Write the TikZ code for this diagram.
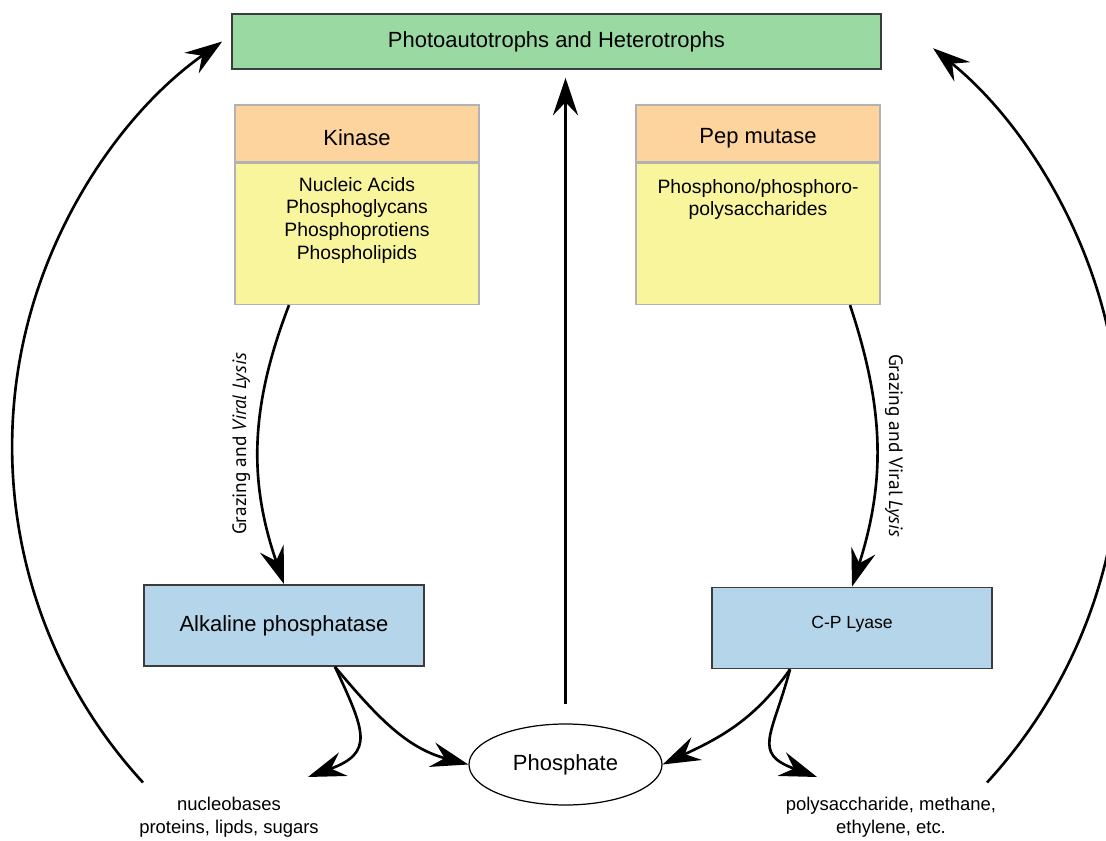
\documentclass[tikz,border=0pt]{standalone}
\usepackage{fontspec}
\setmainfont{Liberation Sans}
\newfontfamily\labelfont{PT Sans}
\usetikzlibrary{arrows.meta,positioning,shapes.geometric}
\definecolor{hostgreen}{RGB}{155,217,163}
\definecolor{enzorange}{RGB}{253,212,158}
\definecolor{substyellow}{RGB}{249,245,157}
\definecolor{phosblue}{RGB}{180,213,234}
\definecolor{boxline}{RGB}{60,60,60}
\begin{document}
\begin{tikzpicture}[
    arr/.style={-{Stealth[length=7.5mm,width=5mm,inset=2.6mm]},line width=1.5pt},
    titlefont/.style={font=\fontsize{12.5}{15}\selectfont},
    enzhead/.style={draw=gray!60,line width=0.8pt,fill=enzorange,minimum width=4.88cm,minimum height=1.14cm,text height=0.48cm,titlefont},
    substbody/.style={draw=gray!60,line width=0.8pt,fill=substyellow,minimum width=4.88cm,minimum height=2.82cm},
    substlist/.style={align=center,inner sep=0pt,font=\fontsize{11}{13}\selectfont},
    lyasebox/.style={draw=boxline,line width=1pt,fill=phosblue,minimum width=5.6cm,minimum height=1.62cm},
    grazelabel/.style={midway,anchor=south,inner sep=4pt,font=\labelfont\fontsize{11}{13}\selectfont},
    endtext/.style={align=center,font=\fontsize{10.5}{13}\selectfont}
]
    \useasboundingbox (0,0) rectangle (22.12,16.8);
    \node[draw=boxline,line width=0.9pt,fill=hostgreen,minimum width=12.98cm,minimum height=1.1cm,titlefont] (host) at (11.13,15.97) {Photoautotrophs and Heterotrophs};

    \node[enzhead] (kinhead) at (7.14,14.13) {Kinase};
    \node[substbody,below=0pt of kinhead] (kinbody) {};
    \node[substlist,below=0.28cm of kinbody.north] (kinlist) {Nucleic Acids\\Phosphoglycans\\Phosphoprotiens\\Phospholipids};

    \node[enzhead] (pephead) at (15.16,14.13) {Pep mutase};
    \node[substbody,below=0pt of pephead] (pepbody) {};
    \node[substlist,below=0.32cm of pepbody.north] (peplist) {Phosphono/phosphoro-\\polysaccharides};

    \node[lyasebox,titlefont] (alk) at (5.68,4.29) {Alkaline phosphatase};
    \node[lyasebox,font=\fontsize{10}{12}\selectfont,text depth=0.22cm] (cpl) at (17.04,4.24) {C-P Lyase};

    \node[draw,ellipse,line width=0.7pt,minimum width=3.86cm,minimum height=1.62cm,inner sep=0pt,titlefont] (phos) at (11.31,1.51) {Phosphate};

    \node[endtext] (nucl) at (4.58,0.45) {nucleobases\\proteins, lipds, sugars};
    \node[endtext] (poly) at (17.82,0.45) {polysaccharide, methane,\\ethylene, etc.};

    \coordinate (nucltip) at (6.16,1.26);
    \coordinate (polytip) at (16.34,1.26);
    \coordinate (leftarc) at (2.86,1.15);
    \coordinate (rightarc) at (19.74,1.15);

    \draw[arr,shorten <=0.38cm,shorten >=0.16cm] (phos.north) -- (phos.north |- host.south);

    \draw[arr] ([xshift=-1.36cm]kinbody.south) to[bend right=20] node[grazelabel,rotate=90] (grazeleft) {Grazing and \textit{Viral Lysis}} (alk.north);
    \draw[arr] ([xshift=1.84cm]pepbody.south) to[bend left=18] node[grazelabel,rotate=-90] (grazeright) {Grazing and Viral \textit{Lysis}} (cpl.north);

    \draw[arr] ([xshift=1.02cm]alk.south) to[out=-50,in=165] (phos.west);
    \draw[arr] ([xshift=1.02cm]alk.south) to[out=-65,in=20,looseness=1.6] (nucltip);
    \draw[arr] ([xshift=-1.24cm]cpl.south) to[out=-125,in=25] (phos.east);
    \draw[arr] ([xshift=-1.24cm]cpl.south) to[out=-105,in=160,looseness=1.6] (polytip);

    \draw[arr] (leftarc) arc[start angle=222.6,end angle=125.2,radius=9.92cm];
    \draw[arr] (rightarc) arc[start angle=-42.6,end angle=51,radius=10.1cm];
\end{tikzpicture}
\end{document}
